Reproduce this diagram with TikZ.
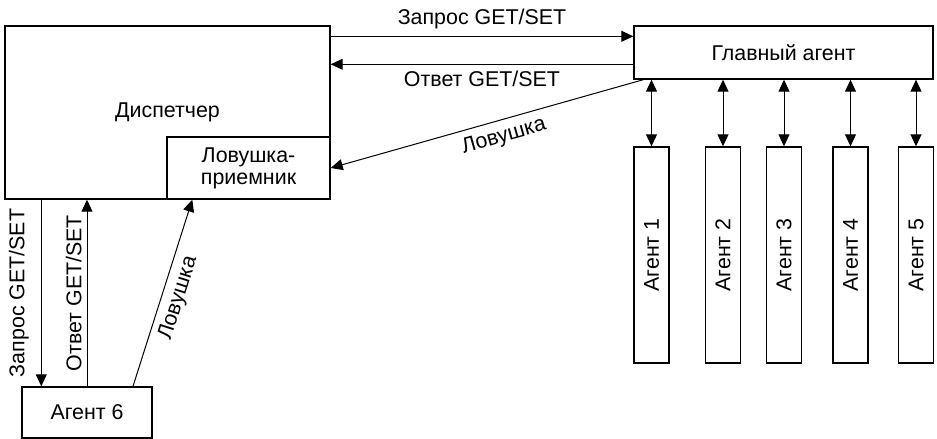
\documentclass[tikz,border=0pt]{standalone}
\usepackage{fontspec}
\setmainfont{Liberation Sans}
\usepackage{graphicx}
\usetikzlibrary{arrows.meta}

\begin{document}
\begin{tikzpicture}[x=0.5pt,y=-0.5pt,
    font=\fontsize{10.7}{11}\selectfont,
    box/.style={draw,line width=0.7pt,inner sep=0pt,align=center},
    arr/.style={line width=0.5pt,-{Triangle[length=6pt,width=5.5pt]}},
    darr/.style={line width=0.5pt,{Triangle[length=6pt,width=5.5pt]}-{Triangle[length=6pt,width=5.5pt]}}]

    % Frame
    \useasboundingbox (0,0) rectangle (937,439);

    % Dispatcher
    \node[box,minimum width=162.5pt,minimum height=86.5pt] (disp) at (167.5,112.5) {Диспетчер};
    \node[box,minimum width=81.5pt,minimum height=31pt] (trap) at (248.5,168) {Ловушка-\\приемник};

    % Main agent
    \node[box,minimum width=149.5pt,minimum height=26.5pt] (main) at (783.5,52.5) {Главный агент};

    % Agents
    \foreach \i/\x in {1/651.5,2/723,3/784,4/850.5,5/916}
        \node[box,minimum width=17.5pt,minimum height=108pt] (a\i) at (\x,255) {\rotatebox{90}{Агент \i}};
    \node[box,minimum width=65pt,minimum height=25.5pt] (a6) at (87,412.5) {Агент 6};

    % Requests and answers
    \draw[arr] ([yshift=-5.5pt]disp.north east) -- node[above]{Запрос GET/SET} ([yshift=-5.5pt]main.north west);
    \draw[arr] ([yshift=-19.5pt]main.north west) -- node[below]{Ответ GET/SET} ([yshift=-19.5pt]disp.north east);
    \draw[arr] ([xshift=5pt]main.south west) -- node[pos=0.46,below,sloped]{Ловушка} (trap.east);

    % Main agent to agents
    \foreach \i in {1,...,5}
        \draw[darr] (main.south -| a\i.north) -- (a\i.north);

    % Agent 6
    \coordinate (q6) at ([xshift=10pt]a6.north west);
    \draw[arr] (q6 |- disp.south) -- node[anchor=east,inner sep=6pt]{\rotatebox{90}{Запрос GET/SET}} (q6);
    \draw[arr] (a6.north) -- node[anchor=east,inner sep=2.5pt]{\rotatebox{90}{Ответ GET/SET}} (a6.north |- disp.south);
    \draw[arr] ([xshift=23pt]a6.north) -- node[below,sloped]{Ловушка} ([xshift=13pt]trap.south west);
\end{tikzpicture}
\end{document}
